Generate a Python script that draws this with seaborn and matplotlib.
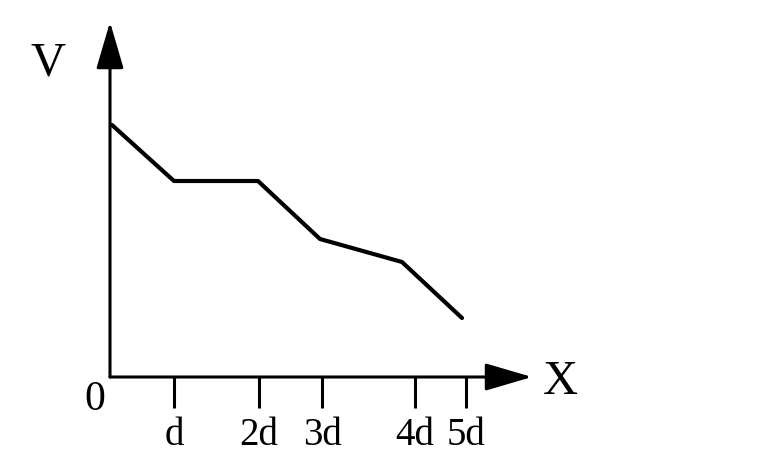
import matplotlib
matplotlib.use('Agg')
import matplotlib.pyplot as plt
import seaborn as sns

# 그래프 데이터 (x: 위치, v: 전위)
x_pos = [0.2, 6.4, 14.8, 21.0, 29.2, 35.2]
v_val = [25.2, 19.6, 19.6, 13.8, 11.5, 5.9]

# x축 눈금 위치와 라벨
tick_pos = [6.4, 14.9, 21.2, 30.5, 35.6]
tick_labels = ['d', '2d', '3d', '4d', '5d']

sns.set_style('white')
plt.rcParams['font.family'] = ['Liberation Serif', 'DejaVu Serif']
plt.rcParams['text.color'] = 'black'
plt.rcParams['xtick.color'] = 'black'
plt.rcParams['xtick.labelcolor'] = 'black'

fig = plt.figure(figsize=(7.6, 4.66), dpi=100)
ax = fig.add_axes([110 / 760, 89 / 466, 420 / 760, 357 / 466])

sns.lineplot(x=x_pos, y=v_val, ax=ax, color='black', linewidth=3.0, clip_on=False)

ax.set_xlim(0, 42)
ax.set_ylim(0, 35.7)
for s in ax.spines.values():
    s.set_visible(False)

# 축 화살표
arrow = dict(arrowstyle='-|>,head_length=2.9,head_width=0.85', color='black',
             lw=2.2, mutation_scale=10, shrinkA=0, shrinkB=0)
ax.annotate('', xy=(42.2, 0), xytext=(0, 0), arrowprops=arrow, annotation_clip=False)
ax.annotate('', xy=(0, 35.5), xytext=(0, 0), arrowprops=arrow, annotation_clip=False)

ax.set_xticks(tick_pos)
ax.set_xticklabels(tick_labels, fontsize=28, color='black')
ax.set_yticks([])
ax.tick_params(axis='x', bottom=True, direction='out', length=22, width=2.2, pad=7, color='black')

ax.text(-1.5, -2.3, '0', fontsize=30, ha='center', va='center', color='black', clip_on=False)
ax.text(-6.2, 31.4, 'V', fontsize=35, ha='center', va='center', color='black', clip_on=False)
ax.text(45.0, -0.5, 'X', fontsize=35, ha='center', va='center', color='black', clip_on=False)

fig.savefig('out.png', dpi=100)
